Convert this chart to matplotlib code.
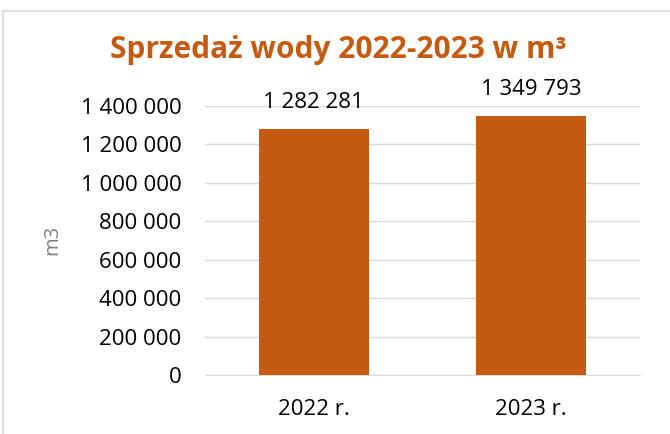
import matplotlib
matplotlib.use("Agg")
import matplotlib.pyplot as plt
from matplotlib.patches import Rectangle
from matplotlib.ticker import FuncFormatter

# chart data
years = ["2022 r.", "2023 r."]
sales = [1282281, 1349793]
y_ticks = [0, 200000, 400000, 600000, 800000, 1000000, 1200000, 1400000]

orange = "#C55A11"
grid_col = "#D9D9D9"

plt.rcParams["font.family"] = ["Open Sans", "DejaVu Sans"]


def fmt(v, pos=None):
    return f"{int(v):,}".replace(",", " ")


fig = plt.figure(figsize=(6.7, 4.34), dpi=100)
ax = fig.add_axes([0.306, 0.136, 0.649, 0.62])

x = range(len(years))
bars = ax.bar(x, sales, width=0.506, color=orange, zorder=3)

# value labels above bars
for b, v in zip(bars, sales):
    ax.annotate(fmt(v), (b.get_x() + b.get_width() / 2, v),
                xytext=(0, 11), textcoords="offset points",
                ha="center", va="bottom", fontsize=16, color="#000000")

ax.set_xlim(-0.5, 1.5)
ax.set_ylim(0, 1400000)
ax.set_yticks(y_ticks)
ax.yaxis.set_major_formatter(FuncFormatter(fmt))
ax.set_xticks(list(x))
ax.set_xticklabels(years)
ax.tick_params(axis="both", length=0, labelsize=16, colors="#000000")
ax.tick_params(axis="y", pad=17)
ax.tick_params(axis="x", pad=17)
ax.grid(axis="y", color=grid_col, linewidth=1, zorder=0)
for s in ["top", "right", "left"]:
    ax.spines[s].set_visible(False)
ax.spines["bottom"].set_color(grid_col)

fig.text(52 / 670, 1 - 240 / 434, "m3", rotation=90, ha="center", va="center",
         color="#7F7F7F", fontsize=14.5)

fig.text(338 / 670, 1 - 50 / 434, "Sprzedaż wody 2022-2023 w m³", ha="center", va="center",
         fontsize=21.5, fontweight="bold", color=orange)

# chart frame
fig.patches.append(Rectangle((3 / 670, -0.1), 1.2, 1.1 - 11 / 434,
                             transform=fig.transFigure, fill=False,
                             edgecolor=grid_col, linewidth=1.2))

fig.savefig("out.png", dpi=100)
